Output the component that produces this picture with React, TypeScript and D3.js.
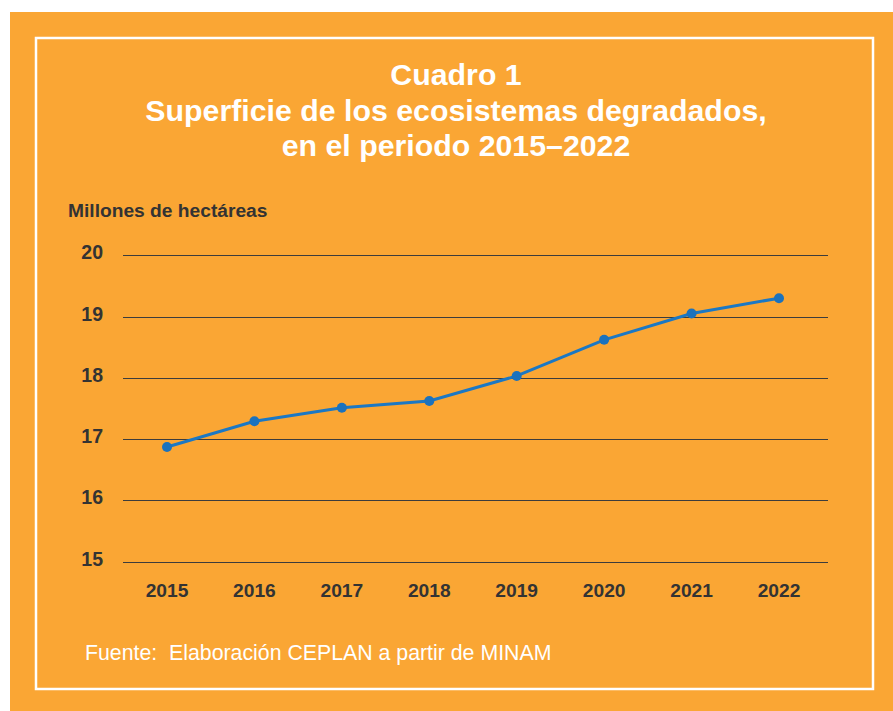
import React, { useEffect, useRef } from "react";
import * as d3 from "d3";

const years = ["2015", "2016", "2017", "2018", "2019", "2020", "2021", "2022"];
const hectares = [16.87, 17.29, 17.51, 17.62, 18.03, 18.62, 19.05, 19.3];
const yTicks = [15, 16, 17, 18, 19, 20];
const titleLines = [
  "Cuadro 1",
  "Superficie de los ecosistemas degradados,",
  "en el periodo 2015–2022",
];
const yTitle = "Millones de hectáreas";
const source = "Fuente:  Elaboración CEPLAN a partir de MINAM";

const W = 893;
const H = 711;
const FONT = "'Liberation Sans', Arial, Helvetica, sans-serif";

export default function App() {
  const ref = useRef<SVGSVGElement>(null);

  useEffect(() => {
    const svg = d3.select(ref.current);
    svg.selectAll("*").remove();

    // background panel + inner white frame
    svg.append("rect").attr("width", W).attr("height", H).attr("fill", "#ffffff");
    svg
      .append("rect")
      .attr("x", 10)
      .attr("y", 12)
      .attr("width", W - 10)
      .attr("height", H - 12)
      .attr("fill", "#faa634");
    svg
      .append("rect")
      .attr("x", 36)
      .attr("y", 38)
      .attr("width", 837)
      .attr("height", 651)
      .attr("fill", "none")
      .attr("stroke", "#ffffff")
      .attr("stroke-width", 2.5);

    // title
    svg
      .append("g")
      .selectAll("text")
      .data(titleLines)
      .join("text")
      .attr("x", 456)
      .attr("y", (d, i) => 85 + i * 35.5)
      .attr("text-anchor", "middle")
      .attr("fill", "#ffffff")
      .style("font-family", FONT)
      .style("font-weight", "bold")
      .style("font-size", "30.3px")
      .text((d) => d);

    // scales
    const x = d3.scalePoint().domain(years).range([167, 779]);
    const y = d3.scaleLinear().domain([15, 20]).range([561.5, 255.3]);

    // y axis title
    svg
      .append("text")
      .attr("x", 68)
      .attr("y", 217)
      .attr("fill", "#333333")
      .style("font-family", FONT)
      .style("font-weight", "bold")
      .style("font-size", "19.2px")
      .text(yTitle);

    // gridlines
    svg
      .append("g")
      .selectAll("line")
      .data(yTicks)
      .join("line")
      .attr("x1", 123)
      .attr("x2", 828)
      .attr("y1", (d) => Math.round(y(d)) + 0.5)
      .attr("y2", (d) => Math.round(y(d)) + 0.5)
      .attr("stroke", "#3c3c3c")
      .attr("stroke-width", 1.2);

    // y tick labels
    svg
      .append("g")
      .selectAll("text")
      .data(yTicks)
      .join("text")
      .attr("x", 103)
      .attr("y", (d) => y(d) + 4)
      .attr("text-anchor", "end")
      .attr("fill", "#333333")
      .style("font-family", FONT)
      .style("font-weight", "bold")
      .style("font-size", "19.5px")
      .text((d) => d);

    // x tick labels
    svg
      .append("g")
      .selectAll("text")
      .data(years)
      .join("text")
      .attr("x", (d) => x(d)!)
      .attr("y", 597)
      .attr("text-anchor", "middle")
      .attr("fill", "#333333")
      .style("font-family", FONT)
      .style("font-weight", "bold")
      .style("font-size", "19.2px")
      .text((d) => d);

    // line + points
    const pts: [string, number][] = years.map((yr, i) => [yr, hectares[i]]);
    const line = d3
      .line<[string, number]>()
      .x((d) => x(d[0])!)
      .y((d) => y(d[1]));

    svg
      .append("path")
      .datum(pts)
      .attr("d", line)
      .attr("fill", "none")
      .attr("stroke", "#1b78c4")
      .attr("stroke-width", 3);

    svg
      .append("g")
      .selectAll("circle")
      .data(pts)
      .join("circle")
      .attr("cx", (d) => x(d[0])!)
      .attr("cy", (d) => y(d[1]))
      .attr("r", 5)
      .attr("fill", "#1b72bd");

    // source
    svg
      .append("text")
      .attr("x", 85)
      .attr("y", 660)
      .attr("fill", "#ffffff")
      .style("font-family", FONT)
      .style("font-size", "21.3px")
      .style("white-space", "pre")
      .text(source);
  }, []);

  return (
    <svg
      ref={ref}
      width={W}
      height={H}
      style={{ position: "absolute", left: 0, top: 0, display: "block" }}
    />
  );
}
